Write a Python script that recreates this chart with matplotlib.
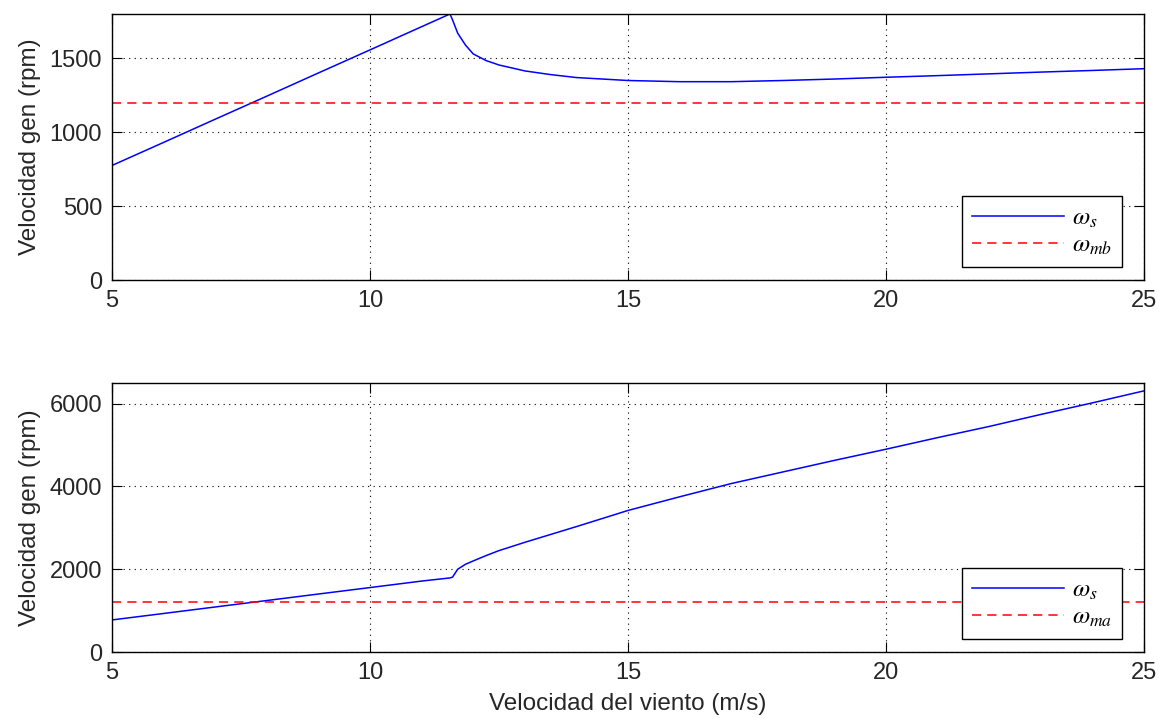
import matplotlib
matplotlib.use("Agg")
import matplotlib.pyplot as plt

plt.rcParams["font.family"] = ["Liberation Sans", "DejaVu Sans"]
plt.rcParams["mathtext.fontset"] = "stix"

# Wind speed (m/s)
viento = [5, 6, 7, 8, 9, 10, 11, 11.55, 11.6, 11.7, 11.85, 12.0, 12.25, 12.5,
          13, 13.5, 14, 15, 16, 17, 18, 19, 20, 21, 22, 23, 24, 25]

# Generator speed, upper panel (rpm)
ws_top = [775, 931, 1088, 1244, 1401, 1557, 1714, 1800, 1760, 1670, 1590, 1530,
          1485, 1455, 1415, 1390, 1370, 1350, 1342, 1342, 1350, 1360, 1372,
          1383, 1395, 1407, 1418, 1430]

# Generator speed, lower panel (rpm)
ws_bot = [775, 931, 1088, 1244, 1401, 1557, 1714, 1790, 1810, 2000, 2120, 2200,
          2330, 2450, 2650, 2840, 3030, 3420, 3750, 4070, 4350, 4630, 4900,
          5180, 5450, 5740, 6020, 6310]

w_mb = 1200
w_ma = 1200

fig = plt.figure(figsize=(11.59, 7.18), dpi=100)
ax1 = fig.add_axes([0.0966, 0.610, 0.8905, 0.3705])
ax2 = fig.add_axes([0.0966, 0.0919, 0.8905, 0.3747])


def style(ax, ylim, yticks):
    ax.set_xlim(5, 25)
    ax.set_xticks([5, 10, 15, 20, 25])
    ax.set_ylim(*ylim)
    ax.set_yticks(yticks)
    ax.grid(True, color="black", linestyle=(0, (1, 4)), linewidth=0.8)
    ax.tick_params(direction="in", length=7, top=True, right=True,
                   labelsize=17, pad=7, labelcolor="#262626")
    for s in ax.spines.values():
        s.set_linewidth(1.0)
    ax.set_ylabel("Velocidad gen (rpm)", fontsize=17.5, color="#262626",
                  labelpad=6)
    # legend box sits 22 px from the right spine and 13 px above the bottom
    leg = ax.legend(loc="lower right", fontsize=18, fancybox=False,
                    framealpha=1, edgecolor="black", borderaxespad=0,
                    bbox_to_anchor=(1 - 22 / 1032, 13 / 268),
                    handlelength=3.7, handletextpad=0.3, labelspacing=0.1,
                    borderpad=0.4)
    leg.get_frame().set_linewidth(1.0)


ax1.plot(viento, ws_top, color="blue", linewidth=1.1, label=r"$\omega_s$")
ax1.axhline(w_mb, color="red", linestyle=(0, (6, 4)), linewidth=1.1,
            label=r"$\omega_{mb}$")
style(ax1, (0, 1800), [0, 500, 1000, 1500])

ax2.plot(viento, ws_bot, color="blue", linewidth=1.1, label=r"$\omega_s$")
ax2.axhline(w_ma, color="red", linestyle=(0, (6, 4)), linewidth=1.1,
            label=r"$\omega_{ma}$")
style(ax2, (0, 6500), [0, 2000, 4000, 6000])
ax2.set_xlabel("Velocidad del viento (m/s)", fontsize=17.5, color="#262626",
               labelpad=7)

fig.savefig("out.png", dpi=100)
